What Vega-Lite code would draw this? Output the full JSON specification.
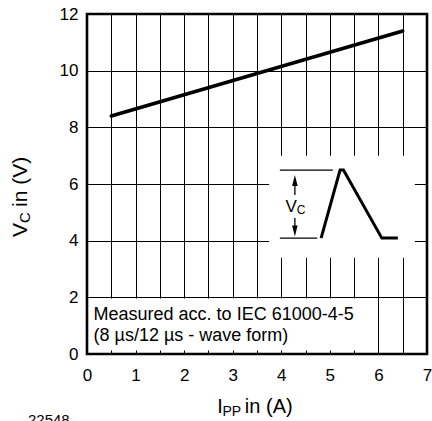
{
  "$schema": "https://vega.github.io/schema/vega-lite/v6.json",
  "width": 340,
  "height": 340,
  "autosize": "none",
  "padding": {"left": 87, "top": 14, "right": 5, "bottom": 67},
  "background": "white",
  "config": {
    "view": {"stroke": null},
    "font": "Liberation Sans",
    "text": {"font": "Liberation Sans", "color": "black"}
  },
  "resolve": {"axis": {"x": "independent"}},
  "datasets": {
    "curve": [
      {"x": 0.5, "y": 8.4},
      {"x": 6.5, "y": 11.4}
    ],
    "boxes": [
      {"x": 0, "x2": 5.8, "y": 0, "y2": 1.96},
      {"x": 3.75, "x2": 6.75, "y": 3.4, "y2": 7.0}
    ],
    "frame": [{"x": 0, "x2": 7, "y": 0, "y2": 12}],
    "inset": [
      {"seg": "top", "o": 1, "x": 3.97, "y": 6.49},
      {"seg": "top", "o": 2, "x": 5.06, "y": 6.49},
      {"seg": "bottom", "o": 1, "x": 3.97, "y": 4.09},
      {"seg": "bottom", "o": 2, "x": 4.74, "y": 4.09},
      {"seg": "wave", "o": 1, "x": 4.82, "y": 4.09},
      {"seg": "wave", "o": 2, "x": 5.21, "y": 6.49},
      {"seg": "wave", "o": 3, "x": 5.28, "y": 6.49},
      {"seg": "wave", "o": 4, "x": 6.07, "y": 4.09},
      {"seg": "wave", "o": 5, "x": 6.4, "y": 4.09},
      {"seg": "stemup", "o": 1, "x": 4.28, "y": 5.61},
      {"seg": "stemup", "o": 2, "x": 4.28, "y": 6.0},
      {"seg": "stemdown", "o": 1, "x": 4.28, "y": 4.8},
      {"seg": "stemdown", "o": 2, "x": 4.28, "y": 4.45}
    ],
    "heads": [
      {"dir": "up", "x": 4.28, "y": 6.12},
      {"dir": "down", "x": 4.28, "y": 4.34}
    ]
  },
  "layer": [
    {
      "data": {"name": "boxes"},
      "mark": {"type": "rect", "fill": "white", "stroke": null},
      "encoding": {
        "x": {
          "field": "x", "type": "quantitative",
          "scale": {"domain": [0, 7], "nice": false, "zero": false},
          "axis": {
            "title": null,
            "values": [0, 0.5, 1, 1.5, 2, 2.5, 3, 3.5, 4, 4.5, 5, 5.5, 6, 6.5, 7],
            "labelExpr": "datum.value % 1 == 0 ? format(datum.value, 'd') : ''",
            "grid": true, "gridColor": "black", "gridWidth": 1, "gridOpacity": 1,
            "ticks": false, "domain": false,
            "labelFont": "Liberation Sans", "labelFontSize": 17, "labelColor": "black",
            "labelPadding": 13, "labelFlush": false, "labelOverlap": false
          }
        },
        "x2": {"field": "x2"},
        "y": {
          "field": "y", "type": "quantitative",
          "scale": {"domain": [0, 12], "nice": false, "zero": false},
          "axis": {
            "title": null,
            "values": [0, 2, 4, 6, 8, 10, 12],
            "format": "d",
            "grid": true, "gridColor": "black", "gridWidth": 1, "gridOpacity": 1,
            "ticks": false, "domain": false,
            "labelFont": "Liberation Sans", "labelFontSize": 17, "labelColor": "black",
            "labelPadding": 9, "labelFlush": false, "labelOverlap": false
          }
        },
        "y2": {"field": "y2"}
      }
    },
    {
      "data": {"name": "curve"},
      "mark": {"type": "line", "color": "black", "strokeWidth": 3.5, "strokeCap": "round"},
      "encoding": {
        "x": {
          "field": "x", "type": "quantitative",
          "axis": {
            "orient": "bottom", "title": null,
            "values": [0.5, 1, 1.5, 2, 2.5, 3, 3.5, 4, 4.5, 5, 5.5, 6, 6.5],
            "grid": false, "labels": false, "domain": false,
            "ticks": true, "tickSize": -4, "tickColor": "black", "tickWidth": 1,
            "zindex": 1
          }
        },
        "y": {"field": "y", "type": "quantitative"}
      }
    },
    {
      "data": {"name": "inset"},
      "transform": [{"filter": "datum.seg == 'wave'"}],
      "mark": {"type": "line", "color": "black", "strokeWidth": 3, "strokeJoin": "miter"},
      "encoding": {
        "x": {"field": "x", "type": "quantitative", "axis": null},
        "y": {"field": "y", "type": "quantitative"},
        "order": {"field": "o"}
      }
    },
    {
      "data": {"name": "inset"},
      "transform": [{"filter": "datum.seg != 'wave'"}],
      "mark": {"type": "line", "color": "black", "strokeWidth": 1.3},
      "encoding": {
        "x": {"field": "x", "type": "quantitative", "axis": null},
        "y": {"field": "y", "type": "quantitative"},
        "detail": {"field": "seg"},
        "order": {"field": "o"}
      }
    },
    {
      "data": {"name": "heads"},
      "transform": [{"filter": "datum.dir == 'up'"}],
      "mark": {"type": "point", "shape": "M0,-1L0.5,1L-0.5,1Z", "filled": true, "color": "black", "size": 120, "opacity": 1},
      "encoding": {
        "x": {"field": "x", "type": "quantitative", "axis": null},
        "y": {"field": "y", "type": "quantitative"}
      }
    },
    {
      "data": {"name": "heads"},
      "transform": [{"filter": "datum.dir == 'down'"}],
      "mark": {"type": "point", "shape": "M0,1L0.5,-1L-0.5,-1Z", "filled": true, "color": "black", "size": 120, "opacity": 1},
      "encoding": {
        "x": {"field": "x", "type": "quantitative", "axis": null},
        "y": {"field": "y", "type": "quantitative"}
      }
    },
    {
      "data": {"values": [
        {"x": 0.135, "y": 1.2, "t": "Measured acc. to IEC 61000-4-5"},
        {"x": 0.135, "y": 0.46, "t": "(8 µs/12 µs - wave form)"}
      ]},
      "mark": {"type": "text", "align": "left", "baseline": "alphabetic", "fontSize": 18},
      "encoding": {
        "x": {"field": "x", "type": "quantitative", "axis": null},
        "y": {"field": "y", "type": "quantitative"},
        "text": {"field": "t"}
      }
    },
    {
      "data": {"values": [{"x": 4.206, "y": 5.01, "t": "V"}]},
      "mark": {"type": "text", "align": "center", "baseline": "alphabetic", "fontSize": 17},
      "encoding": {
        "x": {"field": "x", "type": "quantitative", "axis": null},
        "y": {"field": "y", "type": "quantitative"},
        "text": {"field": "t"}
      }
    },
    {
      "data": {"values": [{"x": 4.32, "y": 4.94, "t": "C"}]},
      "mark": {"type": "text", "align": "left", "baseline": "alphabetic", "fontSize": 12},
      "encoding": {
        "x": {"field": "x", "type": "quantitative", "axis": null},
        "y": {"field": "y", "type": "quantitative"},
        "text": {"field": "t"}
      }
    },
    {
      "data": {"values": [
        {"x": 2.68, "y": -2.083, "t": "I"},
        {"x": 3.25, "y": -2.083, "t": "in (A)"}
      ]},
      "mark": {"type": "text", "align": "left", "baseline": "alphabetic", "fontSize": 20},
      "encoding": {
        "x": {"field": "x", "type": "quantitative", "axis": null},
        "y": {"field": "y", "type": "quantitative"},
        "text": {"field": "t"}
      }
    },
    {
      "data": {"values": [{"x": 2.79, "y": -2.188, "t": "PP"}]},
      "mark": {"type": "text", "align": "left", "baseline": "alphabetic", "fontSize": 14},
      "encoding": {
        "x": {"field": "x", "type": "quantitative", "axis": null},
        "y": {"field": "y", "type": "quantitative"},
        "text": {"field": "t"}
      }
    },
    {
      "data": {"values": [
        {"x": -1.235, "y": 4.13, "t": "V"},
        {"x": -1.235, "y": 5.19, "t": "in (V)"}
      ]},
      "mark": {"type": "text", "align": "left", "baseline": "alphabetic", "fontSize": 21, "angle": 270},
      "encoding": {
        "x": {"field": "x", "type": "quantitative", "axis": null},
        "y": {"field": "y", "type": "quantitative"},
        "text": {"field": "t"}
      }
    },
    {
      "data": {"values": [{"x": -1.174, "y": 4.62, "t": "C"}]},
      "mark": {"type": "text", "align": "left", "baseline": "alphabetic", "fontSize": 15, "angle": 270},
      "encoding": {
        "x": {"field": "x", "type": "quantitative", "axis": null},
        "y": {"field": "y", "type": "quantitative"},
        "text": {"field": "t"}
      }
    },
    {
      "data": {"values": [{"x": -1.215, "y": -2.506, "t": "22548"}]},
      "mark": {"type": "text", "align": "left", "baseline": "alphabetic", "fontSize": 15},
      "encoding": {
        "x": {"field": "x", "type": "quantitative", "axis": null},
        "y": {"field": "y", "type": "quantitative"},
        "text": {"field": "t"}
      }
    },
    {
      "data": {"name": "frame"},
      "mark": {"type": "rect", "fill": null, "fillOpacity": 0, "stroke": "black", "strokeWidth": 2.6},
      "encoding": {
        "x": {"field": "x", "type": "quantitative", "axis": null},
        "x2": {"field": "x2"},
        "y": {"field": "y", "type": "quantitative"},
        "y2": {"field": "y2"}
      }
    }
  ]
}
